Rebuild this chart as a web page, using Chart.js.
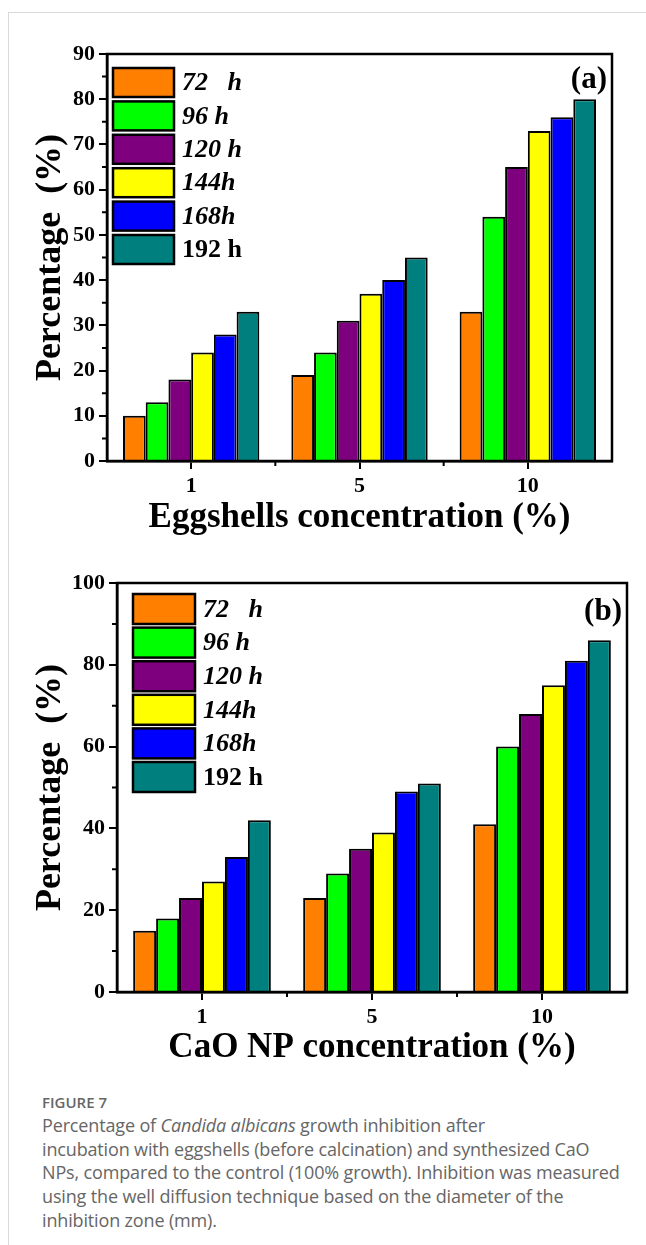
<!DOCTYPE html>
<html>
<head>
<meta charset="utf-8">
<script src="https://cdn.jsdelivr.net/npm/chart.js@4.4.0/dist/chart.umd.min.js"></script>
<style>
  html, body { margin: 0; padding: 0; background: #fff; }
  body { width: 646px; height: 1245px; position: relative; overflow: hidden; }
  .frame { position: absolute; left: 8px; top: 12px; width: 700px; height: 1300px;
           border-left: 1px solid #d9d9d9; border-top: 1px solid #d9d9d9; }
  #wrapA { position: absolute; left: 0; top: 0; width: 646px; height: 560px; }
  #wrapB { position: absolute; left: 0; top: 540px; width: 646px; height: 540px; }
  .caption { position: absolute; left: 42px; top: 1090px; width: 600px;
             font-family: "Open Sans", "Noto Sans", sans-serif; color: #666; }
  .caption .fig { font-size: 15px; font-weight: 600; line-height: 24px; }
  .caption .txt { font-size: 18px; line-height: 23.7px; white-space: nowrap; letter-spacing: -0.15px; }
</style>
</head>
<body>
<div class="frame"></div>
<div id="wrapA"><canvas id="chartA"></canvas></div>
<div id="wrapB"><canvas id="chartB"></canvas></div>
<div class="caption">
  <div class="fig">FIGURE 7</div>
  <div class="txt">Percentage of <i>Candida albicans</i> growth inhibition after<br>
  incubation with eggshells (before calcination) and synthesized CaO<br>
  NPs, compared to the control (100% growth). Inhibition was measured<br>
  using the well diffusion technique based on the diameter of the<br>
  inhibition zone (mm).</div>
</div>
<script>
const concentrations = ['1', '5', '10'];
const seriesLabels = ['72   h', '96 h', '120 h', '144h', '168h', '192 h'];
const seriesColors = ['#ff7f00', '#00ff00', '#7f007f', '#ffff00', '#0000ff', '#007f7f'];

// eggshells (a)
const egg72 = [10, 19, 33];
const egg96 = [13, 24, 54];
const egg120 = [18, 31, 65];
const egg144 = [24, 37, 73];
const egg168 = [28, 40, 76];
const egg192 = [33, 45, 80];

// CaO NPs (b)
const cao72 = [15, 23, 41];
const cao96 = [18, 29, 60];
const cao120 = [23, 35, 68];
const cao144 = [27, 39, 75];
const cao168 = [33, 49, 81];
const cao192 = [42, 51, 86];

const yTicksA = [0, 10, 20, 30, 40, 50, 60, 70, 80, 90];
const yTicksB = [0, 20, 40, 60, 80, 100];

const serif = '"Liberation Serif", "Times New Roman", serif';

// frame, minor ticks, legend and panel tag
const decorPlugin = {
  id: 'decor',
  afterDraw(chart, args, opts) {
    const ctx = chart.ctx;
    const a = chart.chartArea;
    const x = chart.scales.x, y = chart.scales.y;
    ctx.save();
    ctx.strokeStyle = '#000';
    ctx.lineWidth = 2.5;
    ctx.strokeRect(a.left, a.top, a.right - a.left, a.bottom - a.top);

    // minor ticks
    ctx.lineWidth = 2;
    ctx.beginPath();
    for (let v = opts.minorStep; v < y.max; v += opts.minorStep * 2) {
      const py = y.getPixelForValue(v);
      ctx.moveTo(a.left, py);
      ctx.lineTo(a.left - 5, py);
    }
    for (let i = 0; i < concentrations.length - 1; i++) {
      const px = (x.getPixelForValue(i) + x.getPixelForValue(i + 1)) / 2;
      ctx.moveTo(px, a.bottom);
      ctx.lineTo(px, a.bottom + 5);
    }
    ctx.stroke();

    // legend
    const L = opts.legend;
    chart.data.datasets.forEach((ds, i) => {
      const bx = a.left + L.dx, by = a.top + L.dy + i * L.pitch;
      ctx.fillStyle = ds.backgroundColor;
      ctx.fillRect(bx, by, L.w, L.h);
      ctx.lineWidth = 2.5;
      ctx.strokeStyle = '#000';
      ctx.strokeRect(bx, by, L.w, L.h);
      ctx.fillStyle = '#000';
      ctx.font = (i < 5 ? 'italic ' : '') + 'bold 26px ' + serif;
      ctx.textBaseline = 'middle';
      ctx.textAlign = 'left';
      ctx.fillText(ds.label, bx + L.w + 8, by + L.h / 2 + 1);
    });

    // panel tag
    ctx.font = 'bold 31px ' + serif;
    ctx.textAlign = 'right';
    ctx.textBaseline = 'middle';
    ctx.fillText(opts.tag, a.right - 5, a.top + opts.tagDy);
    ctx.restore();
  }
};

function makeChart(id, data, opts) {
  const datasets = data.map((vals, i) => ({
    label: seriesLabels[i],
    data: vals,
    backgroundColor: seriesColors[i],
    borderColor: '#000',
    borderWidth: 2,
    borderSkipped: 'bottom',
    barPercentage: 1,
    categoryPercentage: 0.81
  }));
  return new Chart(document.getElementById(id), {
    type: 'bar',
    data: { labels: concentrations, datasets },
    plugins: [decorPlugin],
    options: {
      responsive: true,
      maintainAspectRatio: false,
      animation: false,
      layout: { padding: { top: opts.top, right: opts.right, left: 0, bottom: 0 } },
      plugins: {
        legend: { display: false },
        tooltip: { enabled: false },
        decor: { minorStep: opts.minorStep, legend: opts.legend, tag: opts.tag, tagDy: opts.tagDy }
      },
      scales: {
        x: {
          afterFit: s => { s.height = opts.xHeight; },
          grid: { display: true, drawOnChartArea: false, offset: false, color: '#000', lineWidth: 2, tickLength: 8 },
          border: { display: true, color: '#000', width: 2.5 },
          ticks: { color: '#000', padding: 4, font: { family: serif, size: 22, weight: 'bold' } },
          title: {
            display: true, text: opts.xTitle, color: '#000',
            font: { family: serif, size: 35, weight: 'bold' },
            padding: { top: 0, bottom: opts.xTitlePad }
          }
        },
        y: {
          min: 0,
          max: opts.yTicks[opts.yTicks.length - 1],
          afterFit: s => { s.width = opts.yWidth; },
          afterBuildTicks: s => { s.ticks = opts.yTicks.map(v => ({ value: v })); },
          grid: { display: true, drawOnChartArea: false, color: '#000', lineWidth: 2, tickLength: 8 },
          border: { display: true, color: '#000', width: 2.5 },
          ticks: { color: '#000', padding: 4, font: { family: serif, size: 22, weight: 'bold' } },
          title: {
            display: true, text: 'Percentage  (%)', color: '#000',
            font: { family: serif, size: 36, weight: 'bold' },
            padding: { top: 29, bottom: 0 }
          }
        }
      }
    }
  });
}

makeChart('chartA', [egg72, egg96, egg120, egg144, egg168, egg192], {
  top: 54, right: 34, xHeight: 99, yWidth: 107, yTicks: yTicksA, minorStep: 5,
  xTitle: 'Eggshells concentration (%)', xTitlePad: 21,
  legend: { dx: 6, dy: 14, w: 61, h: 29, pitch: 33.4 },
  tag: '(a)', tagDy: 26
});

makeChart('chartB', [cao72, cao96, cao120, cao144, cao168, cao192], {
  top: 43, right: 19, xHeight: 88, yWidth: 117, yTicks: yTicksB, minorStep: 10,
  xTitle: 'CaO NP concentration (%)', xTitlePad: 11,
  legend: { dx: 16, dy: 11, w: 62, h: 30, pitch: 33.6 },
  tag: '(b)', tagDy: 29
});
</script>
</body>
</html>
